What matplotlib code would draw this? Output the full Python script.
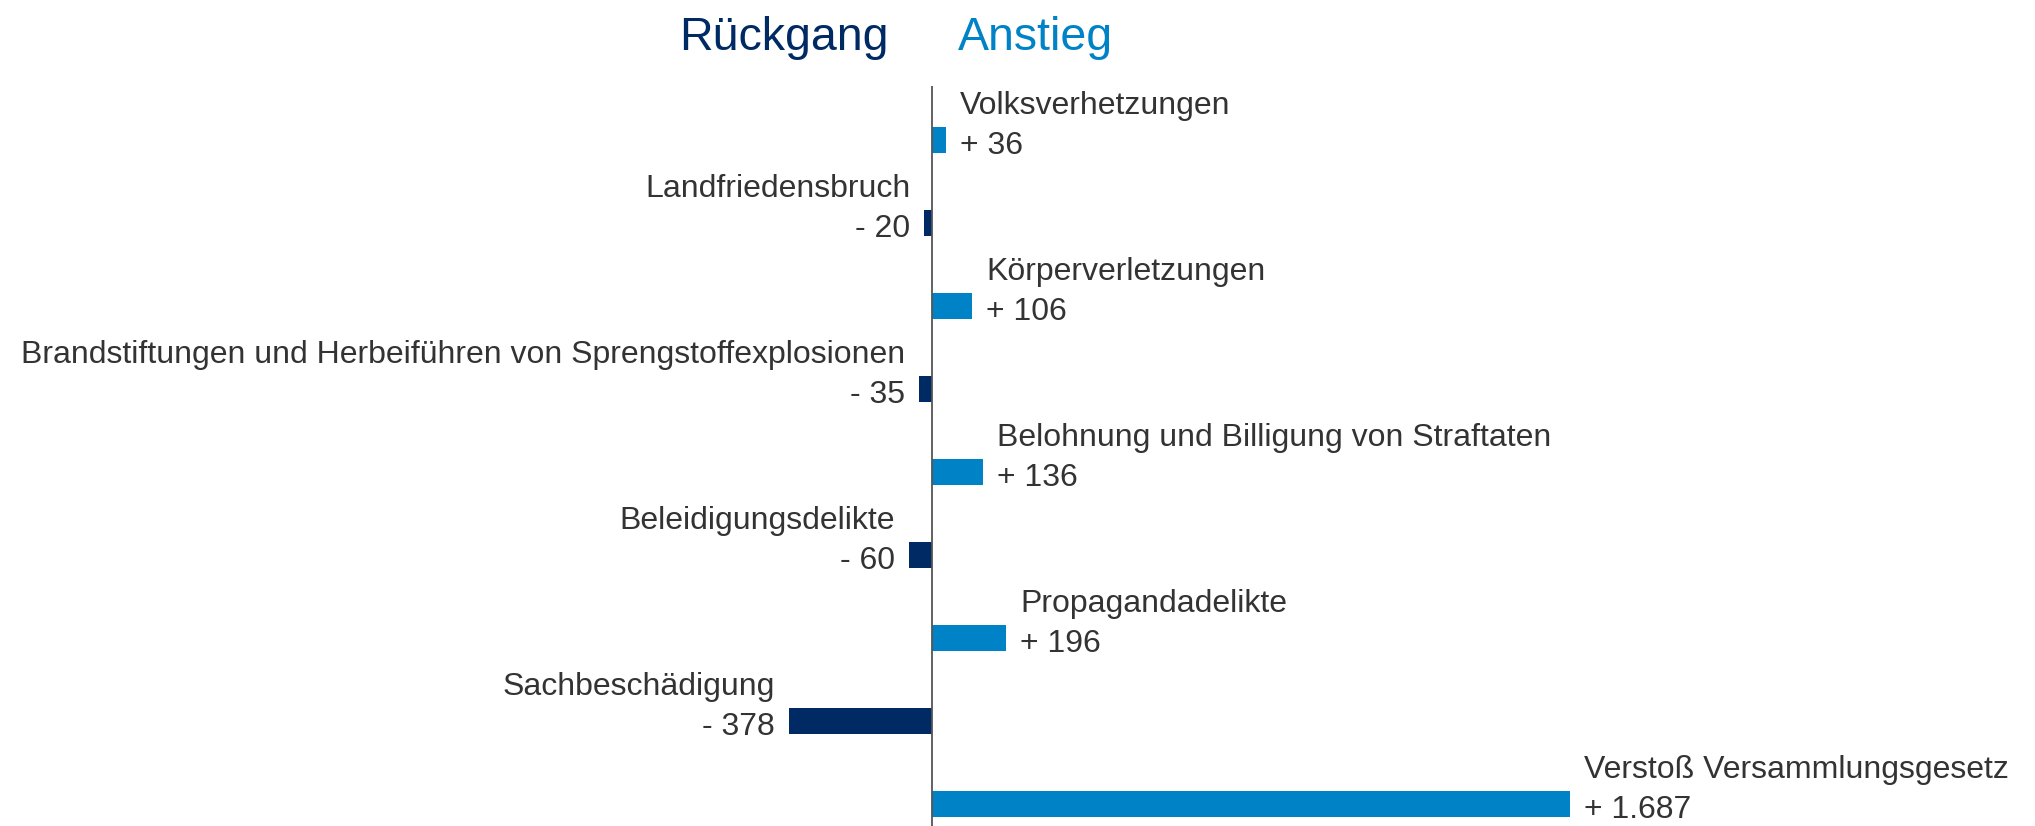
import matplotlib
matplotlib.use("Agg")
import matplotlib.pyplot as plt

plt.rcParams['font.family'] = ['Liberation Sans', 'DejaVu Sans']

categories = ["Volksverhetzungen", "Landfriedensbruch", "Körperverletzungen",
              "Brandstiftungen und Herbeiführen von Sprengstoffexplosionen",
              "Belohnung und Billigung von Straftaten", "Beleidigungsdelikte",
              "Propagandadelikte", "Sachbeschädigung", "Verstoß Versammlungsgesetz"]
values = [36, -20, 106, -35, 136, -60, 196, -378, 1687]
value_labels = ["+ 36", "- 20", "+ 106", "- 35", "+ 136", "- 60", "+ 196", "- 378", "+ 1.687"]

dark = "#002a64"
light = "#0083c6"
txt = "#333333"

fig = plt.figure(figsize=(20.35, 8.26), dpi=100)
ax = fig.add_axes([0, 0, 1, 1])

pos = list(range(len(values)))
colors = [light if v > 0 else dark for v in values]
ax.barh(pos, values, height=0.325, color=colors)

ax.set_xlim(-932 / 0.378, (2035 - 932) / 0.378)
ax.set_ylim(826 / 83 - 140 / 83, -140 / 83)
ax.vlines(0, -0.65, 9, color="#555555", lw=1.3)

for p, v, name, lab in zip(pos, values, categories, value_labels):
    if v > 0:
        ha, dx = "left", 14
    else:
        ha, dx = "right", -14
    ax.annotate(lab, (v, p), xytext=(dx, -6), textcoords="offset pixels",
                ha=ha, va="center", fontsize=23, color=txt)
    ax.annotate(name, (v, p), xytext=(dx, 34), textcoords="offset pixels",
                ha=ha, va="center", fontsize=23, color=txt)

fig.text(889 / 2035, 1 - 50 / 826, "Rückgang", ha="right", va="baseline",
         fontsize=33.5, color=dark)
fig.text(958 / 2035, 1 - 50 / 826, "Anstieg", ha="left", va="baseline",
         fontsize=33.5, color=light)

ax.axis("off")
fig.savefig("out.png", dpi=100)
